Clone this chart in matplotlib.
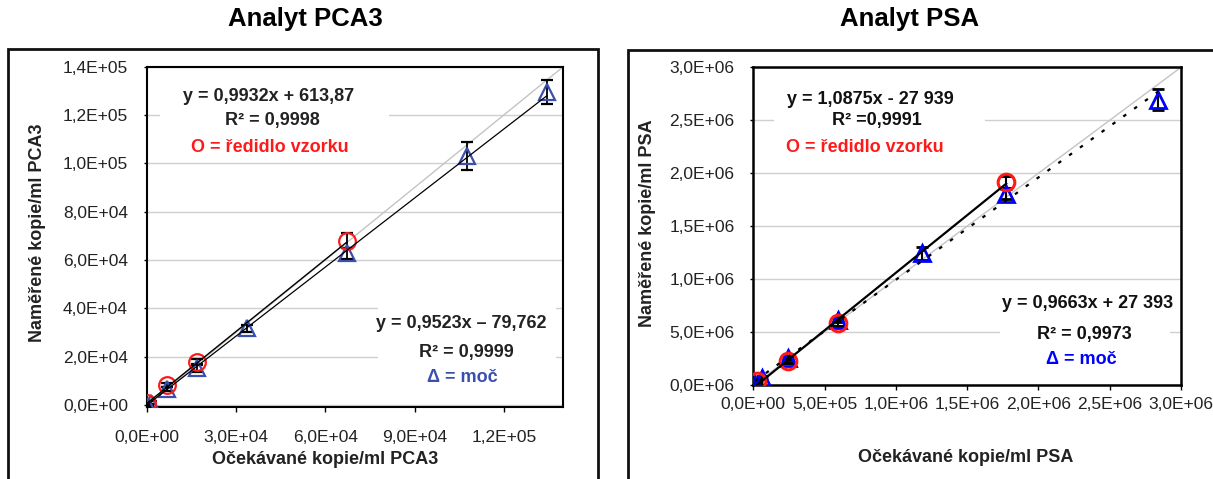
import numpy as np
import matplotlib
matplotlib.use("Agg")
import matplotlib.pyplot as plt
from matplotlib.patches import Rectangle

plt.rcParams['font.family'] = ['Liberation Sans', 'DejaVu Sans']

# ---------------- data ----------------
# PCA3 panel
pca3_dil_x = [0, 6700, 16800, 67200]
pca3_dil_y = [700, 8300, 17900, 68000]
pca3_dil_err = [800, 800, 1200, 3000]
pca3_uri_x = [300, 1350, 6700, 16800, 33600, 67200, 107600, 134400]
pca3_uri_y = [-300, 1000, 6600, 15300, 31700, 62800, 103000, 129600]
pca3_uri_err = [500, 500, 700, 1500, 1500, 2300, 5800, 5000]
pca3_fit_dil = [0.9932, 613.87]
pca3_fit_uri = [0.9523, -79.762]
pca3_xticks = [0, 30000, 60000, 90000, 120000]
pca3_xticklabels = ["0,0E+00", "3,0E+04", "6,0E+04", "9,0E+04", "1,2E+05"]
pca3_yticks = [0, 20000, 40000, 60000, 80000, 100000, 120000, 140000]
pca3_yticklabels = ["0,0E+00", "2,0E+04", "4,0E+04", "6,0E+04", "8,0E+04",
                    "1,0E+05", "1,2E+05", "1,4E+05"]

# PSA panel
psa_dil_x = [23700, 240000, 594000, 1774000]
psa_dil_y = [34000, 229000, 585000, 1915000]
psa_dil_err = [15000, 20000, 25000, 55000]
psa_uri_x = [12000, 59000, 240000, 594000, 1185000, 1774000, 2841000]
psa_uri_y = [0, 70000, 255000, 616000, 1242000, 1805000, 2695000]
psa_uri_err = [10000, 15000, 20000, 25000, 60000, 50000, 97000]
psa_fit_dil = [1.0875, -27939]
psa_fit_uri = [0.9663, 27393]
psa_xticks = [0, 500000, 1000000, 1500000, 2000000, 2500000, 3000000]
psa_xticklabels = ["0,0E+00", "5,0E+05", "1,0E+06", "1,5E+06", "2,0E+06",
                   "2,5E+06", "3,0E+06"]
psa_yticks = [0, 500000, 1000000, 1500000, 2000000, 2500000, 3000000]
psa_yticklabels = ["0,0E+06", "5,0E+06", "1,0E+06", "1,5E+06", "2,0E+06",
                   "2,5E+06", "3,0E+06"]

# ---------------- figure ----------------
W, H = 1213, 479
fig = plt.figure(figsize=(W / 100, H / 100), dpi=100)


def fx(px):
    return px / W


def fy(py):
    return 1 - py / H


def axes_rect(l, t, r, b):
    return [fx(l), fy(b), fx(r) - fx(l), fy(t) - fy(b)]


RED = '#FF1A1A'
BLUE1 = '#3A4FB0'
BLUE2 = '#0000FF'
GRID = '#CFCFCF'
IDENT = '#C4C4C4'
TXT = '#222222'


def style_axes(ax, xticks, xtl, yticks, ytl, xpad, spine_w, xls, yls):
    ax.set_xticks(xticks)
    ax.set_xticklabels(xtl)
    ax.set_yticks(yticks)
    ax.set_yticklabels(ytl)
    ax.yaxis.grid(True, color=GRID, lw=1.0)
    ax.set_axisbelow(True)
    for s in ax.spines.values():
        s.set_linewidth(spine_w)
        s.set_color('black')
    ax.tick_params(axis='x', direction='out', length=3.5, width=1, pad=xpad,
                   labelsize=xls, labelcolor=TXT)
    ax.tick_params(axis='y', direction='out', length=2.5, width=1, pad=11,
                   labelsize=yls, labelcolor=TXT)


def white_box(ax, l, t, r, b):
    ax.add_patch(Rectangle((fx(l), fy(b)), fx(r) - fx(l), fy(t) - fy(b),
                           transform=fig.transFigure, facecolor='white',
                           edgecolor='none', zorder=1))


LAB = 13

# ---- left panel: PCA3 ----
ax1 = fig.add_axes(axes_rect(146.7, 66.7, 563.3, 406.7))
style_axes(ax1, pca3_xticks, pca3_xticklabels, pca3_yticks, pca3_yticklabels,
           xpad=13, spine_w=1.5, xls=12.5, yls=12.5)
white_box(ax1, 160, 76, 389, 160)
white_box(ax1, 378, 300, 556, 395)

ax1.plot([0, 140000], [0, 140000], color=IDENT, lw=1.0, zorder=2)
xd = np.array([min(pca3_dil_x), max(pca3_dil_x)])
ax1.plot(xd, np.polyval(pca3_fit_dil, xd), color='black', lw=1.0, zorder=4)
xu = np.array([min(pca3_uri_x), max(pca3_uri_x)])
ax1.plot(xu, np.polyval(pca3_fit_uri, xu), color='black', lw=0.9, zorder=4)
ax1.errorbar(pca3_uri_x, pca3_uri_y, yerr=pca3_uri_err, fmt='^', ms=11,
             mfc='none', mec=BLUE1, mew=1.6, ecolor='black', elinewidth=1.3,
             capsize=4.5, capthick=1.3, zorder=3)
ax1.errorbar(pca3_dil_x, pca3_dil_y, yerr=pca3_dil_err, fmt='o', ms=12,
             mfc='none', mec=RED, mew=1.6, ecolor='black', elinewidth=1.3,
             capsize=4.5, capthick=1.3, zorder=3)
ax1.set_xlim(0, 140000)
ax1.set_ylim(-700, 140000)
ax1.set_xlabel("Očekávané kopie/ml PCA3", fontsize=LAB, fontweight='bold',
               color=TXT)
ax1.xaxis.set_label_coords((325 - 146.7) / 416.6, (406.7 - 460) / 340)
ax1.xaxis.label.set_va('center')
ax1.set_ylabel("Naměřené kopie/ml PCA3", fontsize=LAB, fontweight='bold',
               color=TXT)
ax1.yaxis.set_label_coords((37 - 146.7) / 416.6, (406.7 - 233) / 340)
ax1.yaxis.label.set_va('center')

# ---- right panel: PSA ----
ax2 = fig.add_axes(axes_rect(753.3, 67.3, 1181, 385))
style_axes(ax2, psa_xticks, psa_xticklabels, psa_yticks, psa_yticklabels,
           xpad=5, spine_w=1.8, xls=12.5, yls=12.5)
white_box(ax2, 774, 76, 985, 165)
white_box(ax2, 1000, 287, 1170, 378)

ax2.plot([0, 3000000], [0, 3000000], color=IDENT, lw=1.0, zorder=2)
xd2 = np.array([min(psa_dil_x), max(psa_dil_x)])
ax2.plot(xd2, np.polyval(psa_fit_dil, xd2), color='black', lw=1.6, zorder=4)
xu2 = np.array([min(psa_uri_x), max(psa_uri_x)])
ax2.plot(xu2, np.polyval(psa_fit_uri, xu2), color='black', lw=1.6,
         linestyle=(0, (1.6, 4.4)), zorder=4)
ax2.errorbar(psa_uri_x, psa_uri_y, yerr=psa_uri_err, fmt='^', ms=11,
             mfc='none', mec=BLUE2, mew=2, ecolor='black', elinewidth=1.5,
             capsize=4.5, capthick=1.5, zorder=3)
ax2.errorbar(psa_dil_x, psa_dil_y, yerr=psa_dil_err, fmt='o', ms=12,
             mfc='none', mec=RED, mew=2.2, ecolor='black', elinewidth=1.5,
             capsize=4.5, capthick=1.5, zorder=3)
ax2.set_xlim(0, 3000000)
ax2.set_ylim(0, 3000000)
ax2.set_xlabel("Očekávané kopie/ml PSA", fontsize=LAB, fontweight='bold',
               color=TXT)
ax2.xaxis.set_label_coords((966 - 753.3) / 427.7, (385 - 457) / 317.7)
ax2.xaxis.label.set_va('center')
ax2.set_ylabel("Naměřené kopie/ml PSA", fontsize=LAB, fontweight='bold',
               color=TXT)
ax2.yaxis.set_label_coords((647 - 753.3) / 427.7, (385 - 223) / 317.7)
ax2.yaxis.label.set_va('center')

# ---- titles ----
fig.text(fx(305), fy(19), "Analyt PCA3", ha='center', va='center',
         fontsize=18.5, fontweight='bold')
fig.text(fx(910), fy(19), "Analyt PSA", ha='center', va='center',
         fontsize=18.5, fontweight='bold')

# ---- annotations ----
EQ = 13
ann = [
    (269, 97, "y = 0,9932x + 613,87", TXT),
    (272, 120, "R² = 0,9998", TXT),
    (270, 147, "O = ředidlo vzorku", RED),
    (461, 324, "y = 0,9523x – 79,762", TXT),
    (466, 352, "R² = 0,9999", TXT),
    (462, 377, "Δ = moč", BLUE1),
    (870, 99, "y = 1,0875x - 27 939", '#111111'),
    (877, 121, "R² =0,9991", '#111111'),
    (865, 147, "O = ředidlo vzorku", RED),
    (1088, 304, "y = 0,9663x + 27 393", '#111111'),
    (1084, 334, "R² = 0,9973", '#111111'),
    (1081, 359, "Δ = moč", BLUE2),
]
for px, py, s, c in ann:
    fig.text(fx(px), fy(py), s, ha='center', va='center', fontsize=EQ,
             fontweight='bold', color=c, zorder=5)

# ---- outer frames ----
fig.add_artist(Rectangle((fx(8.3), -0.2), fx(598) - fx(8.3), fy(49.3) + 0.2,
                         transform=fig.transFigure, fill=False,
                         edgecolor='#111111', lw=2.0, clip_on=False))
fig.add_artist(Rectangle((fx(628.3), -0.2), 0.6, fy(50) + 0.2,
                         transform=fig.transFigure, fill=False,
                         edgecolor='#111111', lw=2.0, clip_on=False))

fig.savefig("out.png", dpi=100)
